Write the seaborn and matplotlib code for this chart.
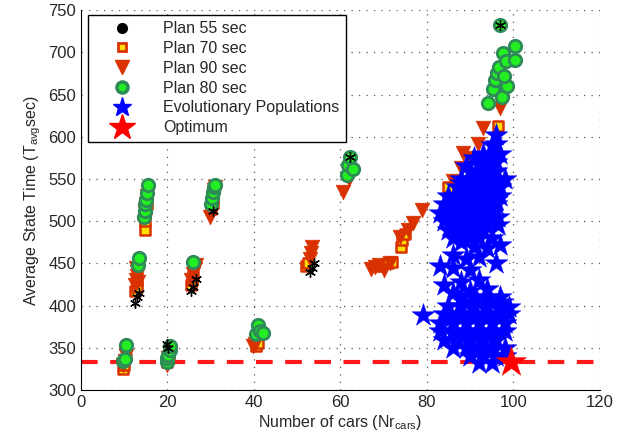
import matplotlib
matplotlib.use('Agg')
import matplotlib.pyplot as plt
from matplotlib.lines import Line2D
import numpy as np
import pandas as pd
import seaborn as sns

# plan 55 sec
p55_x = [12.5, 13, 13.5, 25.5, 26, 26.5, 20, 20.2, 30.5, 53, 53.5, 54, 62.2, 96.9]
p55_y = [403, 410, 415, 418, 422, 432, 355, 350, 512, 440, 445, 450, 576, 732]

# plan 70 sec
p70_x = [9.8, 10, 12.5, 13, 13, 14.8, 14.8, 15, 15.2, 20, 20.3, 25.5, 25.7, 26,
         30, 30.5, 40.5, 41, 52, 52.5, 69, 71, 72, 74, 74.2, 75, 84.9, 96.4]
p70_y = [325, 330, 417, 422, 430, 490, 500, 515, 520, 333, 338, 425, 430, 435,
         515, 522, 352, 356, 447, 450, 447, 450, 452, 470, 478, 485, 540, 613]

# plan 90 sec
p90_x = [9.8, 10.2, 10.5, 12.5, 12.7, 13, 13, 12.8, 13.2, 14.7, 15, 15.2,
         19.8, 20.2, 20.5, 25.5, 26, 26.3, 26.7, 29.8, 30.2, 30.5, 30.8, 31,
         39.8, 40.3, 40.8, 53, 53.2, 53.5, 60.6, 62,
         67, 68, 69, 70, 71.4, 73.8, 75.6, 76.8, 78.8,
         86, 88, 88.3, 90, 91.8, 93, 96.9]
p90_y = [330, 335, 340, 425, 430, 435, 440, 445, 428, 510, 520, 530,
         330, 338, 345, 430, 437, 443, 448, 505, 515, 525, 537, 540,
         352, 355, 360, 455, 462, 470, 535, 550,
         443, 446, 448, 442, 450, 481, 490, 498, 513,
         548, 563, 581, 575, 592, 610, 634]

# plan 80 sec
p80_x = [9.8, 10.2, 10.5, 13.2, 13.5, 14.5, 14.7, 14.9, 15, 15.2, 15.4,
         19.8, 20, 20.2, 20.5, 20.5, 25.8, 30, 30.2, 30.5, 30.8, 31,
         40.5, 41, 41.5, 42, 61.5, 61.8, 62.9, 62.2,
         94.1, 95.3, 95.7, 96.2, 96.8, 97.3, 97.6, 98.2, 98.6, 100.3, 100.3, 97.8, 96.9]
p80_y = [335, 337, 353, 448, 457, 505, 512, 520, 525, 533, 543,
         333, 338, 342, 348, 352, 452, 520, 527, 535, 541, 543,
         366, 377, 370, 368, 555, 566, 562, 576,
         640, 656, 667, 675, 682, 647, 699, 690, 660, 707, 691, 672, 732]

# evolutionary populations
evo_x = [96, 95, 96, 93, 95, 97, 92, 94, 96, 90, 92, 94, 96,
         88, 90, 92, 94, 96, 98, 87, 89, 91, 93, 95, 97,
         85, 87, 89, 91, 93, 95, 97, 84, 86, 88, 90, 92, 94, 96,
         83, 85, 87, 89, 91, 93, 95, 84, 86, 88, 90, 92, 94,
         85, 87, 89, 91, 93, 86, 90, 92, 95,
         88, 91, 94, 97, 86, 89, 92, 83, 86, 90, 96, 84, 88, 92, 86, 90, 94,
         88, 91, 94, 97, 85, 88, 91, 94, 97, 99, 84, 87, 90, 93, 96, 99,
         83, 86, 89, 92, 95, 98, 83, 86, 89, 92, 95, 98, 84, 87, 90, 93, 96,
         86, 89, 92, 95, 98, 90, 93, 96, 98, 92, 95, 79,
         89, 91, 93, 95, 88, 90, 92, 94, 86, 88, 90, 92, 94, 96,
         85, 87.5, 90.5, 93.5, 96.5, 87.5, 90.5, 93.5, 96.5, 88.5, 91.5, 94.5, 97.5,
         85.5, 88, 91, 94, 97, 86.5, 89.5, 92.5, 95.5, 91.5, 94.5]
evo_y = [602, 590, 592, 580, 580, 580, 570, 570, 570, 560, 560, 560, 560,
         550, 550, 550, 550, 550, 550, 540, 540, 540, 540, 540, 540,
         530, 530, 530, 530, 530, 530, 530, 520, 520, 520, 520, 520, 520, 520,
         510, 510, 510, 510, 510, 510, 510, 500, 500, 500, 500, 500, 500,
         490, 490, 490, 490, 490, 480, 480, 480, 480,
         475, 470, 468, 472, 460, 455, 458, 447, 445, 442, 451, 425, 428, 430, 415, 418, 420,
         410, 410, 410, 410, 400, 400, 400, 400, 400, 398, 390, 390, 390, 390, 390, 390,
         380, 380, 380, 380, 380, 380, 370, 370, 370, 370, 370, 370, 360, 360, 360, 360, 360,
         350, 350, 350, 350, 350, 340, 340, 340, 340, 332, 332, 389,
         565, 575, 565, 575, 545, 545, 545, 545, 525, 525, 525, 525, 525, 525,
         505, 505, 505, 505, 505, 495, 495, 495, 495, 405, 405, 405, 405,
         385, 385, 385, 385, 385, 365, 365, 365, 365, 345, 345]

opt_x = [99.5]
opt_y = [333]
opt_level = 333

x_ticks = [0, 20, 40, 60, 80, 100, 120]
y_ticks = [300, 350, 400, 450, 500, 550, 600, 650, 700, 750]

sns.set_style('white')
plt.rcParams['font.family'] = ['Liberation Sans', 'DejaVu Sans']

fig, ax = plt.subplots(figsize=(6.28, 4.36), dpi=100)
fig.subplots_adjust(left=0.129, right=0.955, top=0.977, bottom=0.105)

orange = '#d93200'
asterisk = (6, 2, 0)

ax.axhline(opt_level, color='#ff1a1a', lw=3, ls=(0, (4, 3)), zorder=1)

sns.scatterplot(x=p70_x, y=p70_y, ax=ax, marker='s', s=55, color='#ffe000',
                edgecolor=orange, linewidth=1.8, zorder=2)
sns.scatterplot(x=p90_x, y=p90_y, ax=ax, marker='v', s=110, color=orange,
                edgecolor=orange, linewidth=0.5, zorder=3)
sns.scatterplot(x=p80_x, y=p80_y, ax=ax, marker='o', s=80, color='#22ee22',
                edgecolor='#2e8b57', linewidth=2, zorder=4)
sns.scatterplot(x=p55_x, y=p55_y, ax=ax, marker=asterisk, s=50, color='black',
                edgecolor='black', linewidth=1, zorder=5)
sns.scatterplot(x=evo_x, y=evo_y, ax=ax, marker='*', s=300, color='#0000ff',
                edgecolor='#0000ff', linewidth=0.3, zorder=6)
sns.scatterplot(x=opt_x, y=opt_y, ax=ax, marker='*', s=520, color='#ff0000',
                edgecolor='#ff0000', linewidth=0.3, zorder=7)

ax.set_xlim(0, 120)
ax.set_ylim(300, 750)
ax.set_xticks(x_ticks)
ax.set_yticks(y_ticks)
ax.tick_params(direction='in', length=3, labelsize=12, width=0.8)
ax.grid(True, ls=(0, (1, 5)), color='#555555', lw=0.9)
ax.spines['top'].set_visible(False)
ax.spines['right'].set_visible(False)
for side in ['left', 'bottom']:
    ax.spines[side].set_color('black')
    ax.spines[side].set_linewidth(0.8)
ax.set_axisbelow(True)

ax.set_xlabel(r'Number of cars (Nr$\mathregular{_{cars}}$)', fontsize=11.5, labelpad=2)
ax.set_ylabel(r'Average State Time (T$\mathregular{_{avg}}$sec)', fontsize=11.5, labelpad=4)

handles = [
    Line2D([], [], ls='none', marker='o', ms=7, color='black'),
    Line2D([], [], ls='none', marker='s', ms=6, mfc='#ffe000', mec=orange, mew=2),
    Line2D([], [], ls='none', marker='v', ms=10, color=orange),
    Line2D([], [], ls='none', marker='o', ms=8, mfc='#22ee22', mec='#2e8b57', mew=2.5),
    Line2D([], [], ls='none', marker='*', ms=14, color='#0000ff'),
    Line2D([], [], ls='none', marker='*', ms=19, color='#ff0000'),
]
labels = ['Plan 55 sec', 'Plan 70 sec', 'Plan 90 sec', 'Plan 80 sec',
          'Evolutionary Populations', 'Optimum']
leg = ax.legend(handles, labels, loc='upper left', fontsize=11.5, frameon=True,
                fancybox=False, edgecolor='black', framealpha=1,
                borderaxespad=0.3, handletextpad=0.9, labelspacing=0.3,
                handlelength=3.4, borderpad=0.4, bbox_to_anchor=(0.005, 1.0))
leg.get_frame().set_linewidth(1)

fig.savefig('out.png', dpi=100)
